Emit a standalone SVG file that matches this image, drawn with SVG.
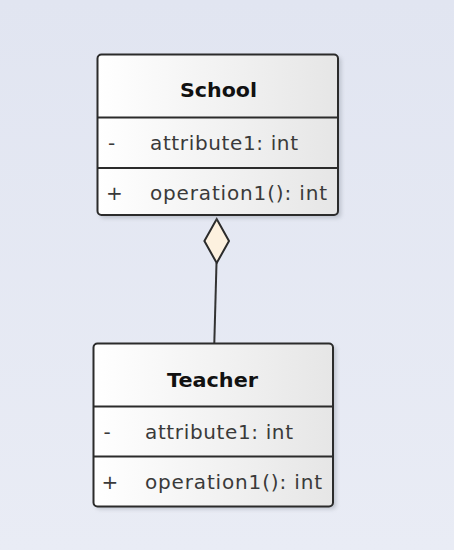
<svg xmlns="http://www.w3.org/2000/svg" width="454" height="556" viewBox="0 0 454 556">
<defs>
<linearGradient id="bg" x1="0" y1="0" x2="0" y2="1">
<stop offset="0" stop-color="#E1E5F1"/>
<stop offset="1" stop-color="#E9ECF5"/>
</linearGradient>
<linearGradient id="box" x1="0" y1="0" x2="1" y2="0">
<stop offset="0" stop-color="#FFFFFF"/>
<stop offset="1" stop-color="#E6E6E6"/>
</linearGradient>
<filter id="sh" x="-10%" y="-10%" width="130%" height="130%">
<feGaussianBlur stdDeviation="2"/>
</filter>
</defs>
<style>
.frame{fill:url(#box);stroke:#2b2b2b;stroke-width:2}
.shadow{fill:#9aa0aa;opacity:0.55;filter:url(#sh)}
.div{stroke:#2b2b2b;stroke-width:2}
.name{font-family:"DejaVu Sans","Liberation Sans",Arial,sans-serif;font-weight:bold;font-size:20px;fill:#111}
.mem{font-family:"DejaVu Sans","Liberation Sans",Arial,sans-serif;font-size:20px;fill:#3a3a3a}
.conn{stroke:#333;stroke-width:2;fill:none}
.diamond{fill:#FDF1DF;stroke:#2b2b2b;stroke-width:2}
</style>
<rect x="0" y="0" width="454" height="550" fill="url(#bg)"/>
<rect x="0" y="550" width="454" height="6" fill="#FFFFFF"/>
<g id="connectors">
<line class="conn" x1="216.5" y1="263" x2="214.3" y2="343"/>
<polygon class="diamond" points="216.7,219 229,241 216.7,263 204.4,241"/>
</g>
<g id="School">
<rect class="shadow" x="100" y="57" width="241" height="161" rx="4"/>
<rect class="frame" x="97.5" y="54.5" width="240.5" height="160.5" rx="4"/>
<line class="div" x1="97.5" y1="117.5" x2="338" y2="117.5"/>
<line class="div" x1="97.5" y1="168" x2="338" y2="168"/>
<text class="name" x="180" y="97" textLength="77" lengthAdjust="spacingAndGlyphs">School</text>
<text class="mem" x="108" y="149.5">-</text>
<text class="mem" x="150" y="149.5" textLength="148" lengthAdjust="spacing">attribute1: int</text>
<text class="mem" x="106" y="200">+</text>
<text class="mem" x="150" y="200" textLength="177" lengthAdjust="spacing">operation1(): int</text>
</g>
<g id="Teacher">
<rect class="shadow" x="96" y="346" width="240" height="163" rx="4"/>
<rect class="frame" x="93.5" y="343.5" width="239.5" height="163" rx="4"/>
<line class="div" x1="93.5" y1="406.5" x2="333" y2="406.5"/>
<line class="div" x1="93.5" y1="456.5" x2="333" y2="456.5"/>
<text class="name" x="167" y="386.5" textLength="91" lengthAdjust="spacingAndGlyphs">Teacher</text>
<text class="mem" x="103.5" y="439">-</text>
<text class="mem" x="145" y="439" textLength="148" lengthAdjust="spacing">attribute1: int</text>
<text class="mem" x="101.5" y="488.5">+</text>
<text class="mem" x="145" y="488.5" textLength="177" lengthAdjust="spacing">operation1(): int</text>
</g>
</svg>
